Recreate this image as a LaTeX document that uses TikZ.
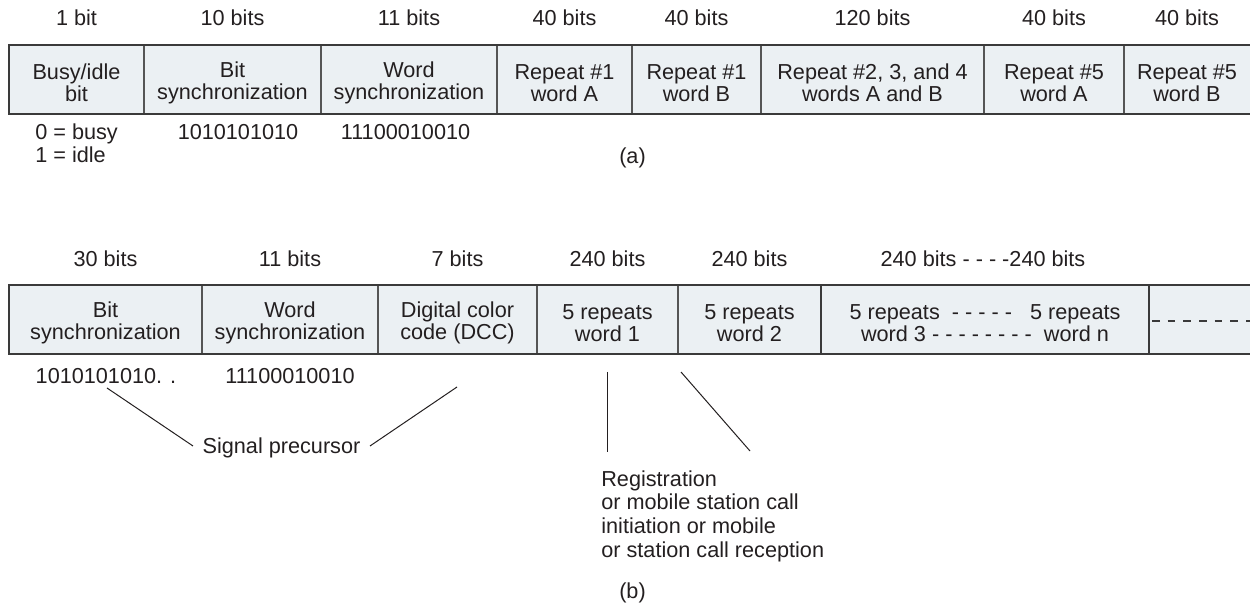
\documentclass[tikz,border=0pt]{standalone}
\usepackage{fontspec}
\setmainfont{Liberation Sans}
\definecolor{cellfill}{HTML}{EBF0F3}
\definecolor{edge}{HTML}{3A3A3A}
\definecolor{divc}{HTML}{555555}
\definecolor{ink}{HTML}{231F20}
\begin{document}
\begin{tikzpicture}[x=0.6pt,y=-0.6pt,
  lbl/.style={font=\fontsize{13}{13.2}\selectfont, text=ink, inner sep=0pt, anchor=base},
  lblw/.style={lbl, anchor=base west},
  cell/.style={font=\fontsize{13}{13.2}\selectfont, text=ink, inner sep=0pt, align=center, anchor=center},
  note/.style={font=\fontsize{13}{14.2}\selectfont, text=ink, inner sep=0pt, align=left, anchor=north west},
  border/.style={draw=edge, line width=0.9pt},
  divider/.style={draw=divc, line width=0.75pt},
  innerbox/.style={draw=edge, line width=1.2pt},
  dashline/.style={draw=edge, line width=0.9pt, dash pattern=on 4.6pt off 4.8pt},
  link/.style={draw=ink, line width=0.6pt},
]
\useasboundingbox (0,0) rectangle (1250,611);

% ---------------- (a) ----------------
\fill[cellfill] (9,45) rectangle (1250,114);
\foreach \x in {144,321,497,632,761,984,1124} \draw[divider] (\x,45) -- (\x,114);
\draw[border] (1250,45) -- (9,45) -- (9,114) -- (1250,114);

\node[lbl] (a1) at (76.5,26) {1 bit};
\node[lbl] (a2) at (232.5,26) {10 bits};
\node[lbl] (a3) at (409,26) {11 bits};
\node[lbl] (a4) at (564.5,26) {40 bits};
\node[lbl] (a5) at (696.5,26) {40 bits};
\node[lbl] (a6) at (872.5,26) {120 bits};
\node[lbl] (a7) at (1054,26) {40 bits};
\node[lbl] (a8) at (1187,26) {40 bits};

\node[cell] (ca1) at (76.5,83) {Busy/idle\\bit};
\node[cell] (ca2) at (232.5,83) {Bit\\synchronization};
\node[cell] (ca3) at (409,83) {Word\\synchronization};
\node[cell] (ca4) at (564.5,83) {Repeat \#1\\word A};
\node[cell] (ca5) at (696.5,83) {Repeat \#1\\word B};
\node[cell] (ca6) at (872.5,83) {Repeat \#2, 3, and 4\\words A and B};
\node[cell] (ca7) at (1054,83) {Repeat \#5\\word A};
\node[cell] (ca8) at (1187,83) {Repeat \#5\\word B};

\node[lblw] (busy) at (35,140) {0 = busy};
\node[lblw] (idle) at (35,162.5) {1 = idle};
\node[lbl] (bsa) at (238,140) {1010101010};
\node[lbl] (wsa) at (405.5,140) {11100010010};
\node[lbl] (capa) at (632.5,164) {(a)};

% ---------------- (b) ----------------
\fill[cellfill] (9,285) rectangle (1250,354);
\foreach \x in {202,378,537,678} \draw[divider] (\x,285) -- (\x,354);
\draw[border] (1250,285) -- (9,285) -- (9,354) -- (1250,354);
\draw[innerbox] (821,285) rectangle (1149,354);
\draw[dashline] (1152,321) -- (1250,321);

\node[lbl] (b1) at (105.5,266.5) {30 bits};
\node[lbl] (b2) at (290,266.5) {11 bits};
\node[lbl] (b3) at (457.5,266.5) {7 bits};
\node[lbl] (b4) at (607.5,266.5) {240 bits};
\node[lbl] (b5) at (749.5,266.5) {240 bits};
\node[lbl] (b6) at (983,266.5) {240 bits - - - -240 bits};

\node[cell] (cb1) at (105.5,323) {Bit\\synchronization};
\node[cell] (cb2) at (290,323) {Word\\synchronization};
\node[cell] (cb3) at (457.5,323) {Digital color\\code (DCC)};
\node[cell] (cb4) at (607.5,323) {5 repeats\\word 1};
\node[cell] (cb5) at (749.5,323) {5 repeats\\word 2};
\node[cell] (cb6) at (985,323) {5 repeats\ \ - - - - -\ \ \ 5 repeats\\word 3 - - - - - - - -\ \ word n};

\node[lbl] (bsb) at (106,384) {1010101010. .};
\node[lbl] (wsb) at (290,384) {11100010010};
\node[lbl] (sig) at (281.5,454) {Signal precursor};
\node[note] (reg) at (601,470) {Registration\\or mobile station call\\initiation or mobile\\or station call reception};
\node[lbl] (capb) at (632.5,599) {(b)};

\coordinate (l1s) at (107,388);
\coordinate (l1e) at (193,446);
\coordinate (l2s) at (370,446);
\coordinate (l2e) at (457,387);
\coordinate (l3s) at (607,372);
\coordinate (l3e) at (607,452);
\coordinate (l4s) at (681,372);
\coordinate (l4e) at (750,451);
\draw[link] (l1s) -- (l1e);
\draw[link] (l2s) -- (l2e);
\draw[link] (l3s) -- (l3e);
\draw[link] (l4s) -- (l4e);
\end{tikzpicture}
\end{document}
